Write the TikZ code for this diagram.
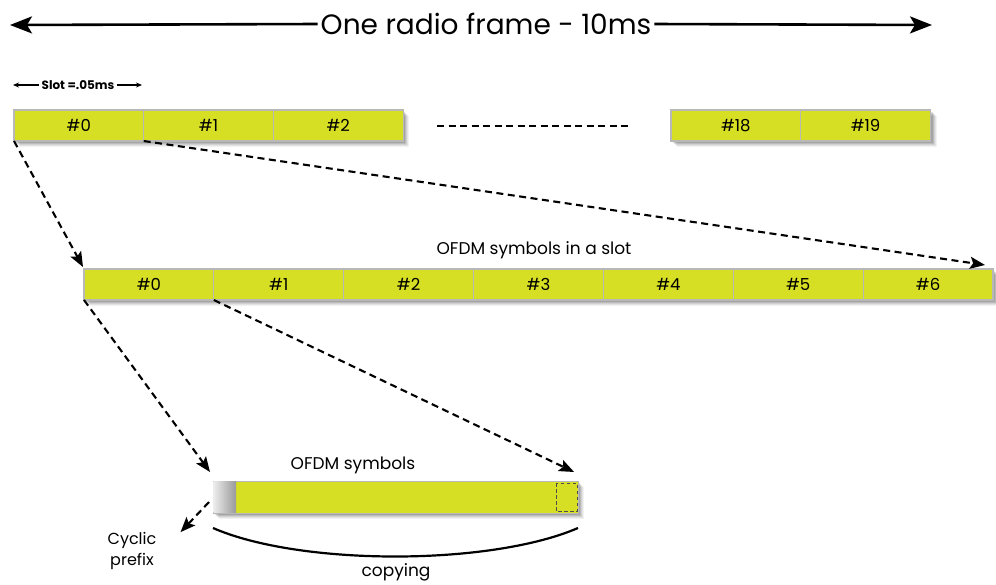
\documentclass[tikz,border=0pt]{standalone}
\usepackage{fontspec}
\setmainfont{Poppins}
\usetikzlibrary{arrows.meta}
\definecolor{lime}{HTML}{D6DF23}
\definecolor{edge}{HTML}{B8B8B8}
\begin{document}
\begin{tikzpicture}[x=1pt,y=-1pt,
  cell/.style={draw=edge, fill=lime, line width=1.1pt, minimum height=31pt, minimum width=129.7pt,
    inner sep=0pt, outer sep=0pt, anchor=north west, font=\fontsize{16.5}{16.5}\selectfont},
  dashedarrow/.style={line width=2.1pt, dash pattern=on 7pt off 4.5pt, -{Stealth[length=15pt,width=12pt,inset=3pt]}},
  bigarrow/.style={line width=2.6pt, -{Stealth[length=22pt,width=17pt,inset=5pt]}},
  smallarrow/.style={line width=1.3pt, -{Stealth[length=6pt,width=5pt]}},
  lbl/.style={inner sep=1pt, font=\fontsize{17}{20}\selectfont},
]
\useasboundingbox (0,0) rectangle (996,584);
\fill[white] (0,0) rectangle (996,584);

% --- title
\node[inner sep=3pt, font=\fontsize{28}{28}\selectfont] (title) at (486,24) {One radio frame - 10ms};
\coordinate (tl) at (10,25);
\coordinate (tr) at (932,25);
\draw[bigarrow] (title.west) -- (tl);
\draw[bigarrow] (title.east) -- (tr);

% --- slot label
\node[inner sep=2pt, font=\bfseries\fontsize{12}{12}\selectfont] (slot) at (78,85) {Slot =.05ms};
\coordinate (sl) at (13,85);
\coordinate (sr) at (142,85);
\draw[smallarrow] (slot.west) -- (sl);
\draw[smallarrow] (slot.east) -- (sr);

% --- shadows (soft)
\foreach \o/\a in {6/0.05,5/0.06,4/0.08,3/0.10,2/0.12}{
  \fill[black,opacity=\a] (14+\o,110+\o) rectangle (403+\o,141+\o);
  \fill[black,opacity=\a] (671+\o,110+\o) rectangle (931+\o,141+\o);
  \fill[black,opacity=\a] (84+\o,269+\o) rectangle (993+\o,300+\o);
  \fill[black,opacity=\a] (213+\o,481+\o) rectangle (578+\o,513+\o);
}

% --- top row
\node[cell] (t0) at (14,110) {\#0};
\node[cell] (t1) at (143.7,110) {\#1};
\node[cell] (t2) at (273.4,110) {\#2};
\node[cell] (t18) at (671,110) {\#18};
\node[cell] (t19) at (800.7,110) {\#19};
\coordinate (e1) at (437,126);
\coordinate (e2) at (632,126);
\draw[line width=2.1pt, dash pattern=on 7pt off 4.5pt] (e1) -- (e2);

% --- middle row
\node[lbl] (sym) at (534,250) {OFDM symbols in a slot};
\foreach \i in {0,...,6}{
  \node[cell, minimum width=129.86pt] (m\i) at ({84+\i*129.86},269) {\#\i};
}

% --- bottom bar
\node[draw=edge, fill=lime, line width=1.1pt, minimum width=365pt, minimum height=32pt, inner sep=0pt,
      anchor=north west] (bar) at (213,481) {};
\shade[shading angle=60, left color=gray!15, right color=gray!80] (213.6,481.6) rectangle (236,512.4);
\draw[line width=1pt, draw=gray!60!black, dash pattern=on 3.5pt off 2.5pt] (556,483) rectangle (577,511);
\node[lbl] (osym) at (353,465) {OFDM symbols};

% --- dashed connectors
\draw[dashedarrow] (t0.south west) -- ([xshift=-1pt,yshift=2pt]m0.north west);
\draw[dashedarrow] (t0.south east) -- ([xshift=-8pt,yshift=4pt]m6.north east);
\draw[dashedarrow] (m0.south west) -- ([xshift=-3pt,yshift=9pt]bar.north west);
\draw[dashedarrow] (m1.south west) -- ([xshift=-5pt,yshift=9pt]bar.north east);

% --- cyclic prefix
\node[lbl, align=center, font=\fontsize{16}{21}\selectfont] (cp) at (132,551) {Cyclic\\prefix};
\coordinate (cps) at (209,502);
\draw[dashedarrow] (cps) -- ([xshift=23pt,yshift=-1pt]cp.north east);

% --- copying
\coordinate (c1) at (213,528);
\coordinate (c2) at (578,528);
\draw[line width=2.2pt] (c1) .. controls (300,566) and (490,566) .. (c2);
\node[lbl] (copy) at (396,572) {copying};
\end{tikzpicture}
\end{document}
